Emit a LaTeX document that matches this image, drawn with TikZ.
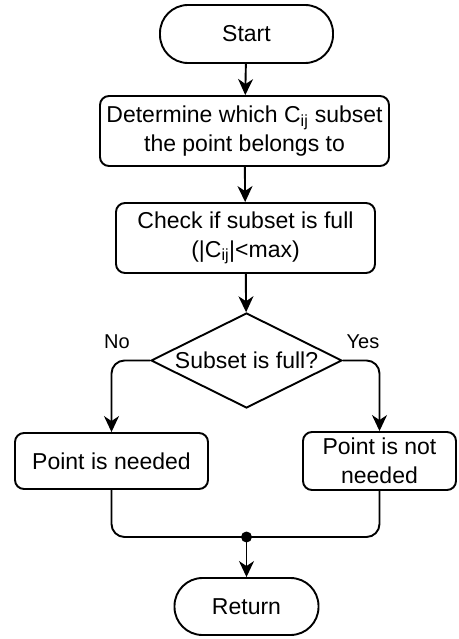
\documentclass[tikz,border=0pt]{standalone}
\usepackage{fontspec}
\setmainfont{Liberation Sans}
\usetikzlibrary{shapes.geometric,arrows.meta}
\begin{document}
\begin{tikzpicture}[x=1pt,y=-1pt,
  base/.style={draw, line width=1.9pt, font=\fontsize{23}{28.5}\selectfont, align=center, inner sep=0pt},
  term/.style={base, rounded corners=28pt},
  proc/.style={base, rounded corners=9pt},
  arr/.style={line width=1.9pt, rounded corners=13pt, -{Stealth[length=16pt,width=15pt,inset=5pt]}},
  ln/.style={line width=1.9pt, rounded corners=13pt},
  lbl/.style={font=\fontsize{20}{24}\selectfont, inner sep=0pt}]
\useasboundingbox (0,0) rectangle (458,639);

\node[term, minimum width=173pt, minimum height=58pt] (start) at (246.5,34) {Start};
\node[proc, minimum width=289pt, minimum height=70pt] (det) at (244.5,131) {Determine which C\textsubscript{ij} subset\\the point belongs to};
\node[proc, minimum width=259pt, minimum height=70pt] (chk) at (245.5,238) {Check if subset is full\\(|C\textsubscript{ij}|<max)};
\node[diamond, draw, line width=1.9pt, minimum width=191pt, minimum height=95pt, inner sep=0pt,
  label={[font=\fontsize{23}{28}\selectfont]center:Subset is full?}] (dec) at (246.5,360.5) {};
\node[proc, minimum width=193pt, minimum height=56pt] (need) at (111.5,461) {Point is needed};
\node[proc, minimum width=153pt, minimum height=58pt] (notneed) at (379.5,461) {Point is not\\needed};
\node[term, minimum width=144pt, minimum height=57pt] (ret) at (246.5,606.5) {Return};

\node[lbl] (no) at (117,342) {No};
\node[lbl] (yes) at (363,342) {Yes};

\coordinate (m) at (246.5,537);

\draw[arr] (start) -- (det);
\draw[arr] (det) -- (chk);
\draw[arr] (chk) -- (dec);
\draw[arr] (dec.west) -| (need.north);
\draw[arr] (dec.east) -| (notneed.north);
\draw[ln] (need.south) |- (m);
\draw[ln] (notneed.south) |- (m);
\fill (m) circle (5.5pt);
\draw[arr] (m) -- (ret);
\end{tikzpicture}
\end{document}
